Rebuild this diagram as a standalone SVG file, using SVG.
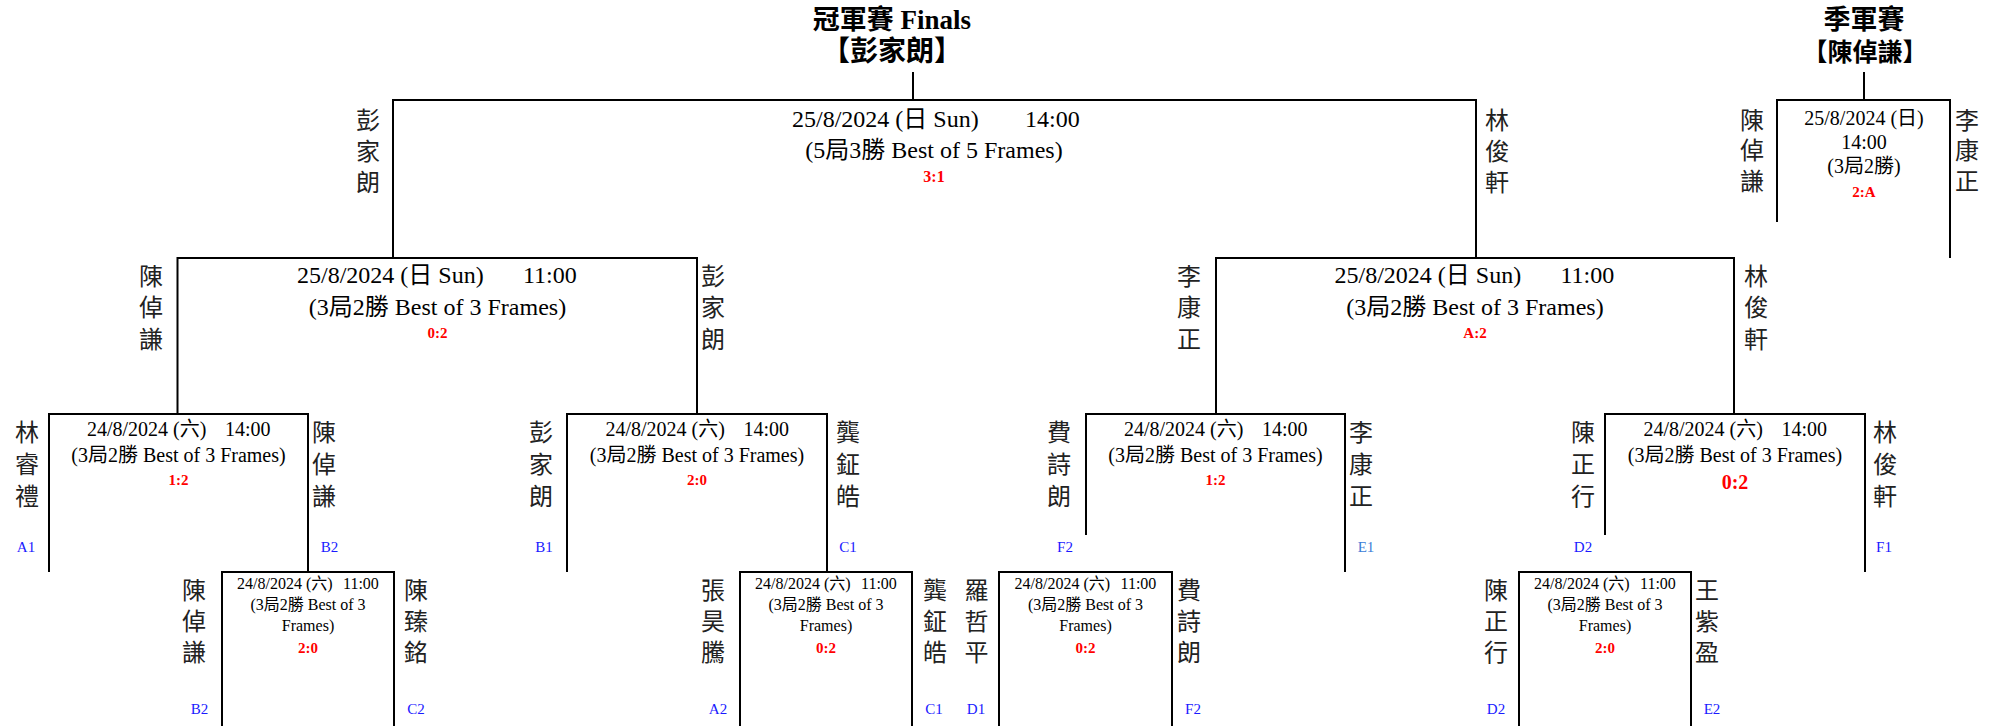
<svg xmlns="http://www.w3.org/2000/svg" width="2002" height="726" viewBox="0 0 2002 726">
<style>
.ln{fill:none;stroke:#000;stroke-width:2}
.t{font-family:"Liberation Serif","Noto Sans CJK TC",serif;fill:#000}
.m{text-anchor:middle}
.f24{font-size:24px}
.f20{font-size:20px}
.f16{font-size:16px}
.sc{font-family:"Liberation Serif",serif;font-weight:bold;fill:#ff0000;text-anchor:middle;font-size:15px}
.nm{font-family:"Noto Sans CJK TC",sans-serif;font-size:24px;fill:#222;text-anchor:middle}
.lb{font-family:"Liberation Serif",serif;font-size:15px;fill:#1a1aff;text-anchor:middle}
.ttl{font-family:"Liberation Serif","Noto Sans CJK TC",serif;font-weight:bold;text-anchor:middle;fill:#000}
</style>
<rect width="2002" height="726" fill="#fff"/>

<g id="connectors">
<path class="ln" d="M913,72V100"/>
<path class="ln" d="M1864,72V100"/>
</g>

<g id="title-final">
<text class="ttl" x="892" y="29" font-size="27">冠軍賽 Finals</text>
<text class="ttl" x="892" y="61" font-size="28">【彭家朗】</text>
</g>
<g id="title-third">
<text class="ttl" x="1864" y="29" font-size="27">季軍賽</text>
<text class="ttl" x="1865" y="61" font-size="25">【陳倬謙】</text>
</g>

<g id="final">
<path class="ln" d="M393,258V100H1476V258"/>
<text class="t f24" y="127"><tspan x="792">25/8/2024 (日 Sun)</tspan><tspan x="1025">14:00</tspan></text>
<text class="t f24 m" x="934" y="158">(5局3勝 Best of 5 Frames)</text>
<text class="sc" x="934" y="182" font-size="16" style="font-size:16px">3:1</text>
<text class="nm"><tspan x="368" y="129">彭</tspan><tspan x="368" y="160">家</tspan><tspan x="368" y="191">朗</tspan></text>
<text class="nm"><tspan x="1497" y="129">林</tspan><tspan x="1497" y="160">俊</tspan><tspan x="1497" y="191">軒</tspan></text>
</g>

<g id="third">
<path class="ln" d="M1777,222V100H1950V258"/>
<text class="t f20 m" x="1864" y="125">25/8/2024 (日)</text>
<text class="t f20 m" x="1864" y="149">14:00</text>
<text class="t f20 m" x="1864" y="173">(3局2勝)</text>
<text class="sc" x="1864" y="197">2:A</text>
<text class="nm"><tspan x="1752" y="129">陳</tspan><tspan x="1752" y="159">倬</tspan><tspan x="1752" y="190">謙</tspan></text>
<text class="nm"><tspan x="1967" y="129">李</tspan><tspan x="1967" y="159">康</tspan><tspan x="1967" y="190">正</tspan></text>
</g>

<g id="semi-left">
<path class="ln" d="M177.5,414V258H697V414"/>
<text class="t f24" y="283"><tspan x="297">25/8/2024 (日 Sun)</tspan><tspan x="523">11:00</tspan></text>
<text class="t f24 m" x="437.5" y="315">(3局2勝 Best of 3 Frames)</text>
<text class="sc" x="437.5" y="338">0:2</text>
<text class="nm"><tspan x="151" y="285">陳</tspan><tspan x="151" y="316">倬</tspan><tspan x="151" y="348">謙</tspan></text>
<text class="nm"><tspan x="713" y="285">彭</tspan><tspan x="713" y="316">家</tspan><tspan x="713" y="348">朗</tspan></text>
</g>

<g id="semi-right">
<path class="ln" d="M1216,414V258H1734V414"/>
<text class="t f24" y="283"><tspan x="1334.5">25/8/2024 (日 Sun)</tspan><tspan x="1560.5">11:00</tspan></text>
<text class="t f24 m" x="1475" y="315">(3局2勝 Best of 3 Frames)</text>
<text class="sc" x="1475" y="338">A:2</text>
<text class="nm"><tspan x="1189" y="285">李</tspan><tspan x="1189" y="316">康</tspan><tspan x="1189" y="348">正</tspan></text>
<text class="nm"><tspan x="1756" y="285">林</tspan><tspan x="1756" y="316">俊</tspan><tspan x="1756" y="348">軒</tspan></text>
</g>

<g id="qf1">
<path class="ln" d="M49,572V414H308V572"/>
<text class="t f20" y="436"><tspan x="87">24/8/2024 (六)</tspan><tspan x="225">14:00</tspan></text>
<text class="t f20 m" x="178.5" y="462">(3局2勝 Best of 3 Frames)</text>
<text class="sc" x="178.5" y="485">1:2</text>
<text class="nm"><tspan x="27" y="441">林</tspan><tspan x="27" y="473">睿</tspan><tspan x="27" y="505">禮</tspan></text>
<text class="nm"><tspan x="324" y="441">陳</tspan><tspan x="324" y="473">倬</tspan><tspan x="324" y="505">謙</tspan></text>
<text class="lb" x="26" y="552">A1</text>
<text class="lb" x="329.5" y="552">B2</text>
</g>

<g id="qf2">
<path class="ln" d="M567,572V414H827V572"/>
<text class="t f20" y="436"><tspan x="605.5">24/8/2024 (六)</tspan><tspan x="743.5">14:00</tspan></text>
<text class="t f20 m" x="697" y="462">(3局2勝 Best of 3 Frames)</text>
<text class="sc" x="697" y="485">2:0</text>
<text class="nm"><tspan x="541" y="441">彭</tspan><tspan x="541" y="473">家</tspan><tspan x="541" y="505">朗</tspan></text>
<text class="nm"><tspan x="848" y="441">龔</tspan><tspan x="848" y="473">鉦</tspan><tspan x="848" y="505">皓</tspan></text>
<text class="lb" x="544" y="552">B1</text>
<text class="lb" x="848" y="552">C1</text>
</g>

<g id="qf3">
<path class="ln" d="M1086,535V414H1345V572"/>
<text class="t f20" y="436"><tspan x="1124">24/8/2024 (六)</tspan><tspan x="1262">14:00</tspan></text>
<text class="t f20 m" x="1215.5" y="462">(3局2勝 Best of 3 Frames)</text>
<text class="sc" x="1215.5" y="485">1:2</text>
<text class="nm"><tspan x="1059" y="441">費</tspan><tspan x="1059" y="473">詩</tspan><tspan x="1059" y="505">朗</tspan></text>
<text class="nm"><tspan x="1361" y="441">李</tspan><tspan x="1361" y="473">康</tspan><tspan x="1361" y="505">正</tspan></text>
<text class="lb" x="1065" y="552">F2</text>
<text class="lb" x="1366" y="552" style="fill:#3b7dd8">E1</text>
</g>

<g id="qf4">
<path class="ln" d="M1605,535V414H1865V572"/>
<text class="t f20" y="436"><tspan x="1643.5">24/8/2024 (六)</tspan><tspan x="1781.5">14:00</tspan></text>
<text class="t f20 m" x="1735" y="462">(3局2勝 Best of 3 Frames)</text>
<text class="sc" x="1735" y="489" style="font-size:20px">0:2</text>
<text class="nm"><tspan x="1583" y="441">陳</tspan><tspan x="1583" y="473">正</tspan><tspan x="1583" y="505">行</tspan></text>
<text class="nm"><tspan x="1885" y="441">林</tspan><tspan x="1885" y="473">俊</tspan><tspan x="1885" y="505">軒</tspan></text>
<text class="lb" x="1583" y="552">D2</text>
<text class="lb" x="1884" y="552">F1</text>
</g>

<g id="r1">
<path class="ln" d="M222,726V572H394V726"/>
<text class="t f16" y="589"><tspan x="237">24/8/2024 (六)</tspan><tspan x="343">11:00</tspan></text>
<text class="t f16 m" x="308" y="610">(3局2勝 Best of 3</text>
<text class="t f16 m" x="308" y="631">Frames)</text>
<text class="sc" x="308" y="653">2:0</text>
<text class="nm"><tspan x="194" y="599">陳</tspan><tspan x="194" y="630">倬</tspan><tspan x="194" y="661">謙</tspan></text>
<text class="nm"><tspan x="416" y="599">陳</tspan><tspan x="416" y="630">臻</tspan><tspan x="416" y="661">銘</tspan></text>
<text class="lb" x="199.5" y="714">B2</text>
<text class="lb" x="416" y="714">C2</text>
</g>

<g id="r2">
<path class="ln" d="M740,726V572H912V726"/>
<text class="t f16" y="589"><tspan x="755">24/8/2024 (六)</tspan><tspan x="861">11:00</tspan></text>
<text class="t f16 m" x="826" y="610">(3局2勝 Best of 3</text>
<text class="t f16 m" x="826" y="631">Frames)</text>
<text class="sc" x="826" y="653">0:2</text>
<text class="nm"><tspan x="713" y="599">張</tspan><tspan x="713" y="630">昊</tspan><tspan x="713" y="661">騰</tspan></text>
<text class="nm"><tspan x="935" y="599">龔</tspan><tspan x="935" y="630">鉦</tspan><tspan x="935" y="661">皓</tspan></text>
<text class="lb" x="718" y="714">A2</text>
<text class="lb" x="934" y="714">C1</text>
</g>

<g id="r3">
<path class="ln" d="M999,726V572H1172V726"/>
<text class="t f16" y="589"><tspan x="1014.5">24/8/2024 (六)</tspan><tspan x="1120.5">11:00</tspan></text>
<text class="t f16 m" x="1085.5" y="610">(3局2勝 Best of 3</text>
<text class="t f16 m" x="1085.5" y="631">Frames)</text>
<text class="sc" x="1085.5" y="653">0:2</text>
<text class="nm"><tspan x="976.5" y="599">羅</tspan><tspan x="976.5" y="630">哲</tspan><tspan x="976.5" y="661">平</tspan></text>
<text class="nm"><tspan x="1189" y="599">費</tspan><tspan x="1189" y="630">詩</tspan><tspan x="1189" y="661">朗</tspan></text>
<text class="lb" x="976" y="714">D1</text>
<text class="lb" x="1193" y="714">F2</text>
</g>

<g id="r4">
<path class="ln" d="M1519,726V572H1691V726"/>
<text class="t f16" y="589"><tspan x="1534">24/8/2024 (六)</tspan><tspan x="1640">11:00</tspan></text>
<text class="t f16 m" x="1605" y="610">(3局2勝 Best of 3</text>
<text class="t f16 m" x="1605" y="631">Frames)</text>
<text class="sc" x="1605" y="653">2:0</text>
<text class="nm"><tspan x="1496" y="599">陳</tspan><tspan x="1496" y="630">正</tspan><tspan x="1496" y="661">行</tspan></text>
<text class="nm"><tspan x="1707" y="599">王</tspan><tspan x="1707" y="630">紫</tspan><tspan x="1707" y="661">盈</tspan></text>
<text class="lb" x="1496" y="714">D2</text>
<text class="lb" x="1712" y="714">E2</text>
</g>
</svg>
